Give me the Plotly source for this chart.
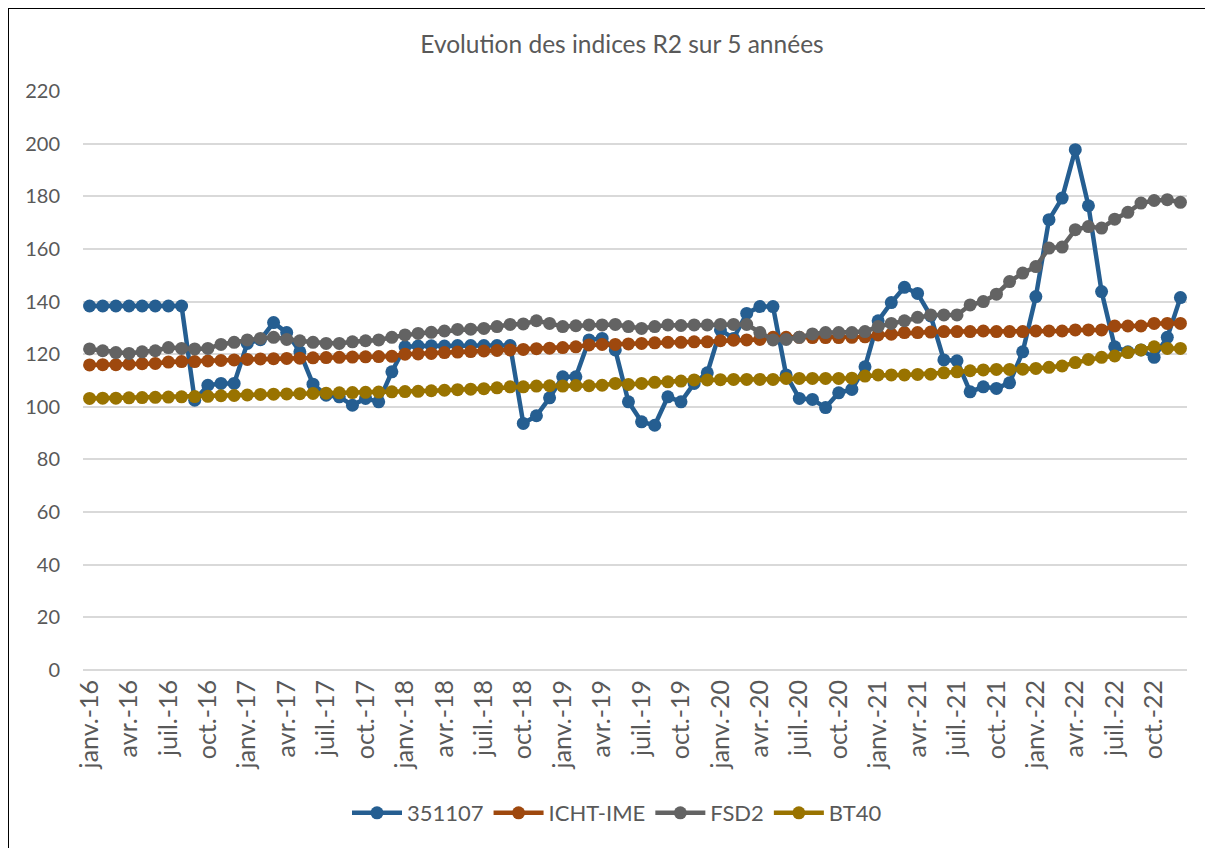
import plotly.graph_objects as go

MONTHS_FR = ["janv.", "févr.", "mars", "avr.", "mai", "juin",
             "juil.", "août", "sept.", "oct.", "nov.", "déc."]
YEARS = ["16", "17", "18", "19", "20", "21", "22"]
categories = [f"{m}-{y}" for y in YEARS for m in MONTHS_FR]

s_351107 = [
    138.3, 138.3, 138.3, 138.3, 138.3, 138.3, 138.3, 138.3, 102.5, 108.2, 108.9, 108.9, 124.1, 125.5,
    132.0, 128.2, 120.9, 108.6, 104.4, 103.8, 100.6, 103.2, 101.9, 113.3, 122.8, 123.1, 123.2, 123.1,
    123.3, 123.3, 123.3, 123.3, 123.3, 93.7, 96.6, 103.4, 111.4, 111.4, 125.4, 126.0, 121.6, 101.9,
    94.3, 93.0, 103.8, 101.9, 108.9, 112.9, 129.2, 126.0, 135.5, 138.1, 138.1, 112.1, 103.2, 102.8,
    99.7, 105.3, 106.6, 115.2, 132.7, 139.6, 145.4, 143.1, 134.5, 117.8, 117.5, 105.7, 107.6, 107.0,
    109.1, 120.9, 141.9, 171.1, 179.3, 197.7, 176.4, 143.8, 122.8, 120.9, 121.6, 118.8, 126.4, 141.5,
]
s_icht_ime = [
    115.9, 116.0, 116.0, 116.2, 116.4, 116.5, 117.0, 117.2, 117.2, 117.4, 117.6, 117.8, 118.0, 118.2,
    118.3, 118.4, 118.5, 118.6, 118.7, 118.8, 118.9, 119.0, 119.1, 119.2, 120.0, 120.1, 120.3, 120.6,
    120.8, 121.0, 121.2, 121.4, 121.6, 121.8, 122.1, 122.3, 122.5, 122.8, 123.5, 123.7, 123.7, 123.9,
    124.1, 124.3, 124.5, 124.5, 124.7, 124.7, 125.1, 125.3, 125.4, 125.6, 126.4, 126.4, 126.4, 126.3,
    126.3, 126.3, 126.4, 126.6, 127.3, 127.6, 128.2, 128.2, 128.4, 128.6, 128.6, 128.6, 128.8, 128.6,
    128.6, 128.6, 128.8, 128.8, 128.8, 129.2, 129.2, 129.2, 130.7, 130.7, 130.7, 131.7, 131.7, 131.7,
]
s_fsd2 = [
    122.0, 121.3, 120.6, 120.3, 120.9, 121.3, 122.5, 122.2, 122.0, 122.2, 123.7, 124.5, 125.4, 126.0,
    126.4, 125.6, 125.1, 124.5, 124.1, 124.1, 124.7, 125.1, 125.4, 126.4, 127.3, 127.9, 128.3, 128.8,
    129.4, 129.5, 129.8, 130.5, 131.3, 131.5, 132.7, 131.7, 130.5, 130.8, 131.1, 131.1, 131.3, 130.5,
    129.8, 130.5, 131.1, 130.9, 131.1, 131.1, 131.3, 131.3, 131.3, 128.2, 125.4, 125.6, 126.4, 127.7,
    128.2, 128.2, 128.2, 128.6, 130.5, 131.7, 132.7, 134.0, 134.9, 134.9, 134.9, 138.7, 140.0,
    142.8, 147.6, 150.8, 153.3, 160.3, 160.7, 167.3, 168.5, 167.9, 171.3, 173.9, 177.4, 178.4, 178.7, 177.7,
]
s_bt40 = [
    103.2, 103.3, 103.3, 103.4, 103.5, 103.6, 103.7, 103.8, 103.9, 104.0, 104.2, 104.3, 104.5, 104.7,
    104.8, 104.9, 105.0, 105.1, 105.2, 105.3, 105.4, 105.5, 105.6, 105.7, 105.8, 105.9, 106.1, 106.3,
    106.5, 106.7, 106.9, 107.2, 107.6, 107.6, 107.9, 108.0, 107.9, 108.1, 108.0, 108.2, 108.9, 108.5,
    108.9, 109.3, 109.5, 109.8, 110.2, 110.2, 110.3, 110.4, 110.4, 110.4, 110.4, 110.8, 110.8, 110.8,
    110.8, 110.8, 110.9, 111.7, 112.1, 112.1, 112.1, 112.3, 112.4, 112.9, 113.3, 113.7, 114.0, 114.2,
    114.2, 114.3, 114.6, 115.0, 115.5, 116.8, 118.0, 118.8, 119.3, 120.6, 121.6, 122.8, 122.2, 122.2,
]

series_names = ["351107", "ICHT-IME", "FSD2", "BT40"]
series_values = [s_351107, s_icht_ime, s_fsd2, s_bt40]
series_colors = ["#255E91", "#9E480E", "#636363", "#997300"]

y_ticks = list(range(0, 221, 20))
x_tick_labels = categories[::3]

FONT = "Lato"
TXT = "#595959"

fig = go.Figure()
for name, vals, col in zip(series_names, series_values, series_colors):
    fig.add_trace(go.Scatter(
        x=categories, y=vals, name=name, mode="lines+markers",
        line=dict(color=col, width=4.5),
        marker=dict(color=col, size=13),
    ))

# page body has an 8px margin: work in figure coordinates (screen - 8)
OFF = 8
W, H = 1213 - OFF, 848 - OFF
L, R, T, B = 83 - OFF, 1187 - OFF, 91 - OFF, 670 - OFF
pw, ph = R - L, B - T

def px(x):
    return (x - OFF - L) / pw

def py(y):
    return (B - (y - OFF)) / ph

fig.update_layout(
    width=W, height=H,
    margin=dict(l=L, r=W - R, t=T, b=H - B),
    paper_bgcolor="white", plot_bgcolor="white",
    font=dict(family=FONT, color=TXT, size=20),
    title=dict(text="Evolution des indices R2 sur 5 années",
               x=px(622), xref="paper", xanchor="center",
               y=1 - (44 - OFF) / H, yanchor="middle",
               font=dict(size=24.5, color=TXT, family=FONT)),
    showlegend=True,
    legend=dict(orientation="h", x=px(617), xanchor="center",
                y=py(813), yanchor="middle",
                font=dict(size=22, color=TXT, family=FONT),
                itemwidth=50),
    xaxis=dict(type="category", range=[-0.5, len(categories) - 0.5],
               tickmode="array", tickvals=x_tick_labels, ticktext=x_tick_labels,
               tickangle=-90, showgrid=False, zeroline=False,
               showline=False, ticks="", ticklabelstandoff=4,
               tickfont=dict(size=25, color=TXT, family=FONT)),
    yaxis=dict(range=[0, 220], tickmode="array", tickvals=y_ticks,
               showgrid=True, gridcolor="#D9D9D9", gridwidth=1.5,
               zeroline=True, zerolinecolor="#D9D9D9", zerolinewidth=1.5,
               showline=False, ticks="", ticklabelstandoff=22,
               tickfont=dict(size=20, color=TXT, family=FONT)),
    shapes=[
        dict(type="line", xref="paper", yref="paper",
             x0=px(OFF), x1=px(OFF), y0=py(H + 40), y1=py(OFF),
             line=dict(color="black", width=2)),
        dict(type="line", xref="paper", yref="paper",
             x0=px(OFF), x1=px(1213 + 40), y0=py(OFF), y1=py(OFF),
             line=dict(color="black", width=2)),
    ],
)

fig.write_html("out.html")
